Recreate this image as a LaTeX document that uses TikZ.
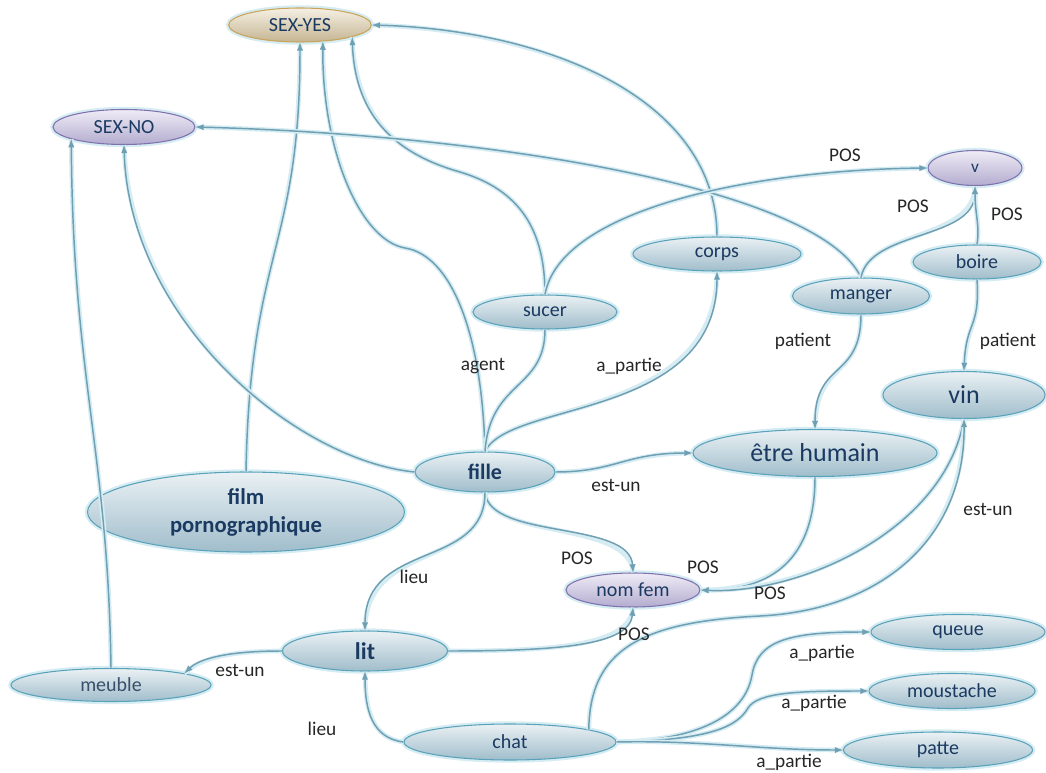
\documentclass[tikz,border=0pt]{standalone}
\usepackage{fontspec}
\setmainfont{Carlito}
\usetikzlibrary{shapes.geometric}

\definecolor{linkc}{HTML}{6E9FB3}
\definecolor{glowc}{HTML}{D6ECF3}
\definecolor{bluetop}{HTML}{EAF1F4}
\definecolor{bluebot}{HTML}{A0BDCB}
\definecolor{blueline}{HTML}{5AA2BA}
\definecolor{lavtop}{HTML}{EFECF6}
\definecolor{lavbot}{HTML}{B3ACCF}
\definecolor{lavline}{HTML}{7E72AE}
\definecolor{beigetop}{HTML}{F5F0E4}
\definecolor{beigebot}{HTML}{C5B592}
\definecolor{beigeline}{HTML}{C9A55A}
\definecolor{navy}{HTML}{1B3A62}

\begin{document}
\begin{tikzpicture}[x=0.75pt, y=-0.75pt,
    concept/.style={ellipse, inner sep=0pt, draw=blueline, line width=0.8pt,
        top color=bluetop, bottom color=bluebot, text=navy,
        preaction={draw=glowc, line width=4pt},
        font=\fontsize{15}{17}\selectfont},
    lav/.style={draw=lavline, top color=lavtop, bottom color=lavbot},
    beige/.style={draw=beigeline, top color=beigetop, bottom color=beigebot},
    big/.style={font=\fontsize{19.5}{22}\selectfont},
    rel/.style={draw=linkc, line width=1.1pt, -latex,
        preaction={draw=glowc, line width=3.5pt, -}},
    lab/.style={font=\fontsize{14.5}{16}\selectfont, text=black!85, inner sep=1pt}]

    \useasboundingbox (0,0) rectangle (1046,773);

    % concepts
    \node[concept, beige, minimum width=107pt, minimum height=25.5pt] (sexyes) at (300,25) {SEX-YES};
    \node[concept, lav, minimum width=106.5pt, minimum height=26.25pt] (sexno) at (124,127) {SEX-NO};
    \node[concept, lav, minimum width=70.5pt, minimum height=26.25pt,
        font=\fontsize{13}{15}\selectfont] (v) at (975,168) {v};
    \node[concept, minimum width=126pt, minimum height=25.5pt] (corps) at (717,254) {corps};
    \node[concept, minimum width=96pt, minimum height=25.5pt] (boire) at (977,262) {boire};
    \node[concept, minimum width=102.75pt, minimum height=27pt] (manger) at (861,296) {manger};
    \node[concept, minimum width=108pt, minimum height=25.5pt] (sucer) at (545,312) {sucer};
    \node[concept, big, minimum width=121.5pt, minimum height=35.25pt] (vin) at (964,395) {vin};
    \node[concept, big, minimum width=183pt, minimum height=35.25pt] (etre) at (815,453) {être humain};
    \node[concept, minimum width=105pt, minimum height=30pt,
        font=\fontsize{16.5}{18}\selectfont\bfseries] (fille) at (485,472) {fille};
    \node[concept, minimum width=237.75pt, minimum height=60pt, align=center,
        font=\fontsize{17}{21}\selectfont\bfseries] (film) at (246,512) {film\\pornographique};
    \node[concept, lav, minimum width=100.5pt, minimum height=25.5pt] (nomfem) at (633,590) {nom fem};
    \node[concept, minimum width=123.75pt, minimum height=30pt,
        font=\fontsize{18}{20}\selectfont\bfseries] (lit) at (365,651) {lit};
    \node[concept, minimum width=150pt, minimum height=24.75pt, text=navy!70!gray] (meuble) at (111,685) {meuble};
    \node[concept, minimum width=159pt, minimum height=27pt] (chat) at (510,742) {chat};
    \node[concept, minimum width=130.5pt, minimum height=26.25pt] (queue) at (958,632) {queue};
    \node[concept, minimum width=124.5pt, minimum height=26.25pt] (moustache) at (952,691) {moustache};
    \node[concept, minimum width=141.75pt, minimum height=27pt] (patte) at (938,750) {patte};

    % links
    \draw[rel] (film.north) .. controls (250,250) and (300,250) .. (sexyes.south);
    \draw[rel] (fille.north) .. controls (482,330) and (450,255) .. (405,248)
        .. controls (360,240) and (322,150) .. (sexyes.-36);
    \draw[rel] (sucer.north) .. controls (545,230) and (520,190) .. (460,172)
        .. controls (400,155) and (355,120) .. (sexyes.-13);
    \draw[rel] (corps.north) .. controls (717,100) and (550,30) .. (sexyes.east);
    \draw[rel] (manger.north) .. controls (820,190) and (500,135) .. (sexno.east);
    \draw[rel] (fille.west) .. controls (295,460) and (129,320) .. (sexno.south);
    \draw[rel] (meuble.north) .. controls (108,450) and (73,380) .. (sexno.-167);
    \draw[rel] (sucer.north) .. controls (560,210) and (750,170) .. (v.west);
    \draw[rel] (manger.north) .. controls (870,230) and (975,240) .. (v.south);
    \draw[rel] (boire.north) .. controls (980,225) and (975,215) .. (v.south);
    \draw[rel] (manger.south) .. controls (861,380) and (815,360) .. (etre.north);
    \draw[rel] (boire.south) .. controls (980,330) and (966,320) .. (vin.north);
    \draw[rel] (fille.north) .. controls (510,400) and (717,420) .. (corps.south);
    \draw[rel, -] (sucer.south) .. controls (545,390) and (490,380) .. (fille.north);
    \draw[rel] (fille.east) .. controls (615,472) and (625,453) .. (etre.west);
    \draw[rel] (fille.south) .. controls (490,540) and (630,520) .. (nomfem.north);
    \draw[rel] (fille.south) .. controls (485,570) and (365,540) .. (lit.north);
    \draw[rel] (etre.south) .. controls (815,570) and (760,590) .. (nomfem.east);
    \draw[rel] (vin.south) .. controls (945,530) and (800,595) .. (nomfem.east);
    \draw[rel] (chat.9) .. controls (590,650) and (640,622) .. (760,616)
        .. controls (880,610) and (965,540) .. (vin.south);
    \draw[rel] (lit.east) .. controls (560,651) and (630,645) .. (nomfem.south);
    \draw[rel] (lit.west) .. controls (230,651) and (200,658) .. (meuble.9);
    \draw[rel] (chat.west) .. controls (372,738) and (365,710) .. (lit.south);
    \draw[rel] (chat.east) .. controls (700,740) and (745,715) .. (752,675)
        .. controls (758,640) and (790,632) .. (queue.west);
    \draw[rel] (chat.east) .. controls (715,740) and (738,725) .. (748,708)
        .. controls (758,692) and (800,691) .. (moustache.west);
    \draw[rel] (chat.east) .. controls (700,740) and (760,750) .. (patte.west);

    % relation names
    \node[lab] (pos1) at (845,155) {POS};
    \node[lab] (pos2) at (913,206) {POS};
    \node[lab] (pos3) at (1007,214) {POS};
    \node[lab] (pat1) at (803,341) {patient};
    \node[lab] (pat2) at (1008,341) {patient};
    \node[lab] (agent) at (483,366) {agent};
    \node[lab] (part1) at (629,366) {a\_partie};
    \node[lab] (isa1) at (616,485) {est-un};
    \node[lab] (pos4) at (577,558) {POS};
    \node[lab] (pos5) at (703,567) {POS};
    \node[lab] (pos6) at (770,593) {POS};
    \node[lab] (pos7) at (634,634) {POS};
    \node[lab] (lieu1) at (414,577) {lieu};
    \node[lab] (isa2) at (988,509) {est-un};
    \node[lab] (isa3) at (240,670) {est-un};
    \node[lab] (lieu2) at (322,729) {lieu};
    \node[lab] (part2) at (822,653) {a\_partie};
    \node[lab] (part3) at (814,703) {a\_partie};
    \node[lab] (part4) at (789,762) {a\_partie};

\end{tikzpicture}
\end{document}
